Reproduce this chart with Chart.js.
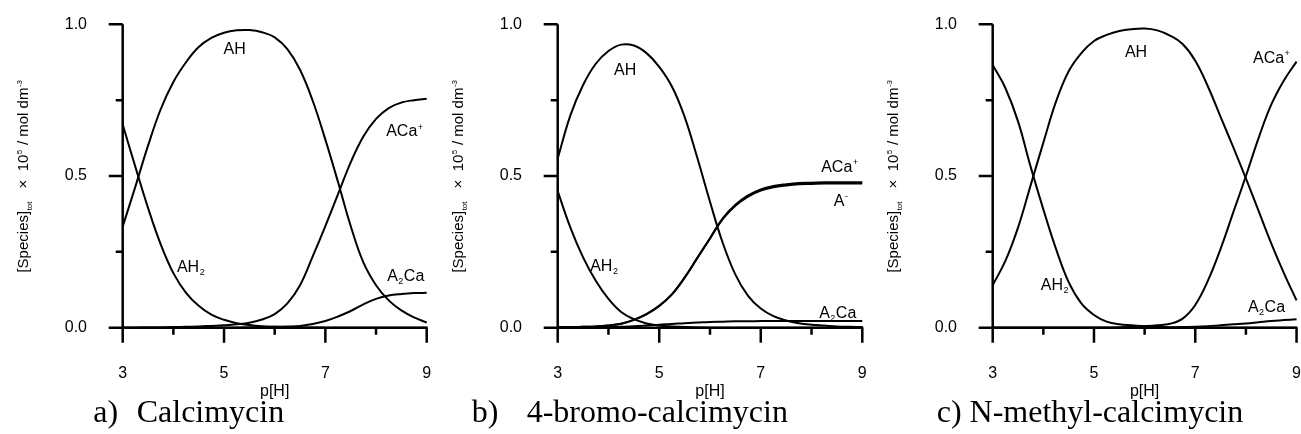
<!DOCTYPE html>
<html><head><meta charset="utf-8">
<script src="https://cdn.jsdelivr.net/npm/chart.js@4.4.1/dist/chart.umd.min.js"></script>
<style>
html,body{margin:0;padding:0;background:#fff;}
#wrap{position:relative;width:1301px;height:434px;overflow:hidden;}
canvas{position:absolute;left:0;top:0;}
</style></head><body>
<div id="wrap">
<canvas id="ca" width="1301" height="434"></canvas>
<canvas id="cb" width="1301" height="434"></canvas>
<canvas id="cc" width="1301" height="434"></canvas>
</div>
<script>
// ---------- data ----------
const pH = [3, 3.25, 3.5, 3.75, 4, 4.25, 4.5, 4.75, 5, 5.25, 5.5, 5.75, 6, 6.25, 6.5, 6.75, 7, 7.25, 7.5, 7.75, 8, 8.25, 8.5, 8.75, 9];
const xTickValues = [3, 5, 7, 9];
const yTickValues = [0, 0.5, 1.0];

// a) Calcimycin
const a_AH2  = [0.67, 0.53, 0.395, 0.275, 0.18, 0.115, 0.072, 0.043, 0.026, 0.015, 0.009, 0.005, 0.003, 0.002, 0.001, 0.001, 0, 0, 0, 0, 0, 0, 0, 0, 0];
const a_AH   = [0.333, 0.465, 0.60, 0.72, 0.81, 0.875, 0.925, 0.955, 0.972, 0.98, 0.981, 0.974, 0.957, 0.918, 0.85, 0.748, 0.62, 0.48, 0.335, 0.215, 0.14, 0.09, 0.057, 0.034, 0.017];
const a_ACa  = [0, 0, 0.001, 0.001, 0.002, 0.003, 0.004, 0.006, 0.008, 0.011, 0.016, 0.027, 0.045, 0.08, 0.14, 0.235, 0.335, 0.44, 0.545, 0.63, 0.688, 0.724, 0.742, 0.75, 0.755];
const a_A2Ca = [0, 0, 0, 0, 0, 0, 0, 0, 0, 0, 0.001, 0.002, 0.003, 0.004, 0.006, 0.012, 0.022, 0.037, 0.055, 0.077, 0.095, 0.106, 0.111, 0.114, 0.115];

// b) 4-bromo-calcimycin
const b_AH2  = [0.45, 0.33, 0.232, 0.155, 0.095, 0.052, 0.028, 0.014, 0.007, 0.004, 0.002, 0.001, 0, 0, 0, 0, 0, 0, 0, 0, 0, 0, 0, 0, 0];
const b_AH   = [0.558, 0.70, 0.80, 0.87, 0.912, 0.933, 0.93, 0.905, 0.86, 0.795, 0.695, 0.56, 0.415, 0.28, 0.175, 0.105, 0.063, 0.038, 0.024, 0.015, 0.01, 0.007, 0.004, 0.003, 0.002];
const b_ACa  = [0.002, 0.002, 0.003, 0.004, 0.007, 0.013, 0.026, 0.045, 0.072, 0.11, 0.165, 0.23, 0.295, 0.36, 0.405, 0.436, 0.456, 0.467, 0.473, 0.477, 0.478, 0.479, 0.479, 0.479, 0.479];
const b_A    = [0.002, 0.002, 0.003, 0.004, 0.007, 0.013, 0.026, 0.045, 0.072, 0.11, 0.165, 0.23, 0.294, 0.358, 0.402, 0.432, 0.452, 0.463, 0.469, 0.473, 0.474, 0.475, 0.475, 0.475, 0.475];
const b_A2Ca = [0, 0, 0, 0.001, 0.002, 0.003, 0.005, 0.007, 0.01, 0.012, 0.015, 0.017, 0.019, 0.02, 0.021, 0.021, 0.022, 0.022, 0.022, 0.022, 0.022, 0.022, 0.022, 0.022, 0.022];

// c) N-methyl-calcimycin
const c_AH2  = [0.866, 0.79, 0.68, 0.53, 0.39, 0.26, 0.15, 0.08, 0.042, 0.02, 0.011, 0.008, 0.005, 0.003, 0.001, 0, 0, 0, 0, 0, 0, 0, 0, 0, 0];
const c_AH   = [0.14, 0.22, 0.33, 0.47, 0.61, 0.745, 0.845, 0.905, 0.945, 0.965, 0.978, 0.984, 0.986, 0.98, 0.963, 0.935, 0.88, 0.795, 0.695, 0.595, 0.492, 0.385, 0.278, 0.18, 0.09];
const c_ACa  = [0, 0, 0, 0, 0, 0, 0, 0, 0, 0, 0.001, 0.003, 0.005, 0.008, 0.013, 0.03, 0.075, 0.155, 0.26, 0.38, 0.5, 0.625, 0.735, 0.815, 0.877];
const c_A2Ca = [0, 0, 0, 0, 0, 0, 0, 0, 0, 0, 0, 0, 0, 0, 0.001, 0.002, 0.003, 0.005, 0.008, 0.011, 0.014, 0.018, 0.022, 0.025, 0.028];

// ---------- layout / style ----------
const FONT = '"Liberation Sans", Arial, sans-serif';
const SERIF = '"Liberation Serif", "Times New Roman", serif';
const TOP = 24.3, BOTTOM = 327.7, CANVAS_W = 1301, CANVAS_H = 434;
const TICK_FONT = 16, LABEL_FONT = 16, TITLE_FONT = 15;

const panels = [
  { id: 'ca', axisLeft: 122.7, axisRight: 426.7,
    series: [a_AH2, a_AH, a_ACa, a_A2Ca],
    labels: [
      { x: 4.99, y: 0.922, parts: [['AH', 'n']] },
      { x: 8.20, y: 0.651, parts: [['ACa', 'n'], ['+', 'sup']] },
      { x: 4.07, y: 0.203, parts: [['AH', 'n'], ['2', 'sub']] },
      { x: 8.22, y: 0.174, parts: [['A', 'n'], ['2', 'sub'], ['Ca', 'n']] }
    ],
    caption: [['a)', 93.3], ['Calcimycin', 136.7]] },
  { id: 'cb', axisLeft: 557.7, axisRight: 862.3,
    series: [b_AH2, b_AH, b_ACa, b_A, b_A2Ca],
    labels: [
      { x: 4.11, y: 0.853, parts: [['AH', 'n']] },
      { x: 8.19, y: 0.533, parts: [['ACa', 'n'], ['+', 'sup']] },
      { x: 8.44, y: 0.421, parts: [['A', 'n'], ['-', 'sup']] },
      { x: 3.64, y: 0.207, parts: [['AH', 'n'], ['2', 'sub']] },
      { x: 8.15, y: 0.052, parts: [['A', 'n'], ['2', 'sub'], ['Ca', 'n']] }
    ],
    caption: [['b)', 471.7], ['4-bromo-calcimycin', 526.7]] },
  { id: 'cc', axisLeft: 992.7, axisRight: 1296.7,
    series: [c_AH2, c_AH, c_ACa, c_A2Ca],
    labels: [
      { x: 5.61, y: 0.912, parts: [['AH', 'n']] },
      { x: 8.14, y: 0.892, parts: [['ACa', 'n'], ['+', 'sup']] },
      { x: 3.95, y: 0.144, parts: [['AH', 'n'], ['2', 'sub']] },
      { x: 8.04, y: 0.072, parts: [['A', 'n'], ['2', 'sub'], ['Ca', 'n']] }
    ],
    caption: [['c) N-methyl-calcimycin', 936.7]] }
];

function drawRich(ctx, x, y, parts, size, family) {
  const small = Math.round(size * 0.55);
  for (const [t, kind] of parts) {
    if (kind === 'n') {
      ctx.font = size + 'px ' + family;
      ctx.fillText(t, x, y);
    } else if (kind === 'sub') {
      ctx.font = small + 'px ' + family;
      ctx.fillText(t, x + 0.5, y + size * 0.22);
    } else {
      ctx.font = small + 'px ' + family;
      ctx.fillText(t, x + 0.5, y - size * 0.40);
    }
    x += ctx.measureText(t).width + (kind === 'n' ? 0 : 1);
  }
  return x;
}
function richWidth(ctx, parts, size, family) {
  const small = Math.round(size * 0.55);
  let w = 0;
  for (const [t, kind] of parts) {
    ctx.font = (kind === 'n' ? size : small) + 'px ' + family;
    w += ctx.measureText(t).width + (kind === 'n' ? 0 : 1);
  }
  return w;
}

const decor = {
  id: 'decor',
  afterDraw(chart, args, opts) {
    const ctx = chart.ctx, xs = chart.scales.x, ys = chart.scales.y;
    const L = xs.getPixelForValue(3), R = xs.getPixelForValue(9);
    const T = ys.getPixelForValue(1), B = ys.getPixelForValue(0);
    ctx.save();
    ctx.strokeStyle = '#000';
    ctx.lineWidth = 2.5;
    ctx.lineCap = 'butt';
    ctx.beginPath();
    ctx.moveTo(L, T); ctx.lineTo(L, B + 15);
    ctx.moveTo(L - 14, B); ctx.lineTo(R + 1, B);
    for (const v of [0.25, 0.5, 0.75, 1.0]) {
      const p = ys.getPixelForValue(v);
      const len = (v === 0.5 || v === 1.0) ? 14 : 7;
      ctx.moveTo(L - len, p); ctx.lineTo(L, p);
    }
    for (const v of [4, 5, 6, 7, 8, 9]) {
      const p = xs.getPixelForValue(v);
      const len = (v % 2 === 1) ? 15 : 7;
      ctx.moveTo(p, B); ctx.lineTo(p, B + len);
    }
    ctx.stroke();

    ctx.fillStyle = '#000';
    ctx.textBaseline = 'alphabetic';
    ctx.textAlign = 'left';
    for (const lab of opts.labels) {
      const px = xs.getPixelForValue(lab.x), py = ys.getPixelForValue(lab.y) + 5.8;
      drawRich(ctx, px, py, lab.parts, LABEL_FONT, FONT);
    }

    const tparts = [['[Species]', 'n'], ['tot', 'sub'], ['   \u00d7  10', 'n'], ['5', 'sup'], [' / mol dm', 'n'], ['-3', 'sup']];
    const w = richWidth(ctx, tparts, TITLE_FONT, FONT);
    ctx.save();
    ctx.translate(L - 100 + 5.5, (T + B) / 2);
    ctx.rotate(-Math.PI / 2);
    drawRich(ctx, -w / 2, 0, tparts, TITLE_FONT, FONT);
    ctx.restore();

    ctx.font = '32px ' + SERIF;
    for (const [t, x] of opts.caption) ctx.fillText(t, x, 422);
    ctx.restore();
  }
};

for (const pnl of panels) {
  const datasets = pnl.series.map(arr => ({
    data: pH.map((x, i) => ({ x, y: arr[i] })),
    borderColor: '#000',
    borderWidth: 2,
    pointRadius: 0,
    tension: 0.4,
    fill: false,
    clip: false
  }));
  new Chart(document.getElementById(pnl.id), {
    type: 'line',
    data: { datasets },
    plugins: [decor],
    options: {
      responsive: false,
      animation: false,
      devicePixelRatio: 1,
      layout: { padding: { left: 0, top: TOP, right: CANVAS_W - pnl.axisRight, bottom: 0 } },
      plugins: { legend: { display: false }, tooltip: { enabled: false },
                 decor: { labels: pnl.labels, caption: pnl.caption } },
      scales: {
        x: {
          type: 'linear', min: 3, max: 9,
          grid: { display: true, drawOnChartArea: false, drawTicks: true, tickLength: 36, tickColor: 'rgba(0,0,0,0)' },
          border: { display: false },
          afterBuildTicks: s => { s.ticks = xTickValues.map(v => ({ value: v })); },
          afterFit: s => { s.height = CANVAS_H - BOTTOM; },
          ticks: { color: '#000', font: { family: FONT, size: TICK_FONT }, padding: 0, maxRotation: 0,
                   callback: v => String(v) },
          title: { display: true, text: 'p[H]', color: '#000', font: { family: FONT, size: TICK_FONT },
                   padding: { top: 0, bottom: 33 } }
        },
        y: {
          type: 'linear', min: 0, max: 1,
          grid: { display: true, drawOnChartArea: false, drawTicks: true, tickLength: 35.7, tickColor: 'rgba(0,0,0,0)' },
          border: { display: false },
          afterBuildTicks: s => { s.ticks = yTickValues.map(v => ({ value: v })); },
          afterFit: s => { s.width = pnl.axisLeft; },
          ticks: { color: '#000', font: { family: FONT, size: TICK_FONT }, padding: 0,
                   callback: v => Number(v).toFixed(1) }
        }
      }
    }
  });
}
</script>
</body></html>
